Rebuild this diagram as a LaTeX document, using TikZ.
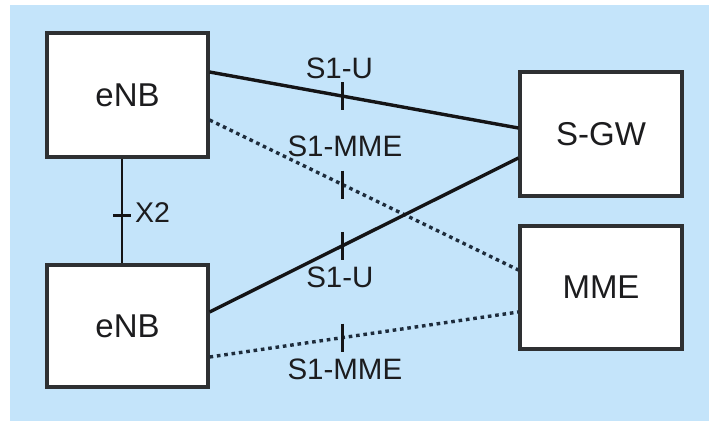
\documentclass[tikz,border=0pt]{standalone}
\usepackage{fontspec}
\setmainfont{Liberation Sans}
\definecolor{bgc}{RGB}{196,228,250}
\definecolor{boxline}{RGB}{46,48,50}
\definecolor{linec}{RGB}{20,20,22}
\definecolor{dotc}{RGB}{30,44,60}
\definecolor{txt}{RGB}{28,28,30}
\begin{document}
\begin{tikzpicture}[x=1pt,y=-1pt,
  box/.style={draw=boxline, line width=3.2pt, fill=white, minimum width=161pt, minimum height=124pt, inner sep=0pt, font=\fontsize{33}{38}\selectfont, text=txt},
  lbl/.style={font=\fontsize{29.5}{34}\selectfont, text=txt, inner sep=0pt},
  solidlink/.style={draw=linec, line width=3.4pt},
  dotlink/.style={draw=dotc, line width=3.4pt, dash pattern=on 3.6pt off 3.8pt},
  tickmark/.style={draw=linec, line width=3.2pt}]
\useasboundingbox (0,0) rectangle (709,421);
\fill[bgc] (10,5) rectangle (709,421);

\node[box] (enb1) at (127.5,95) {eNB};
\node[box, minimum height=122pt] (enb2) at (127.5,326) {eNB};
\node[box, minimum width=162pt] (sgw) at (601,134) {S-GW};
\node[box, minimum width=162pt, minimum height=123pt] (mme) at (601,287.5) {MME};

% X2
\draw[solidlink, line width=2.8pt] ([xshift=-5.5pt]enb1.south) -- ([xshift=-5.5pt]enb2.north) coordinate[pos=0.54] (tx2);
\draw[tickmark, line width=2.8pt] ([xshift=-9pt]tx2) -- ([xshift=9pt]tx2);
\node[lbl, font=\fontsize{28.5}{33}\selectfont, anchor=west] (lx2) at ([xshift=13pt,yshift=2.5pt]tx2) {X2};

% S1-U top
\draw[solidlink] ([yshift=23pt]enb1.east) -- ([yshift=6pt]sgw.west) coordinate[pos=0.43] (t1);
\draw[tickmark] ([yshift=14pt]t1) -- ([yshift=-14pt]t1);
\node[lbl] (l1) at ([xshift=-3pt,yshift=28pt]t1) {S1-U};

% S1-MME top
\draw[dotlink] ([yshift=-25pt]enb1.east) -- ([yshift=17.5pt]mme.west) coordinate[pos=0.43] (t2);
\draw[tickmark] ([yshift=14pt]t2) -- ([yshift=-14pt]t2);
\node[lbl] (l2) at ([xshift=2.5pt,yshift=38pt]t2) {S1-MME};

% S1-U bottom
\draw[solidlink] ([yshift=14pt]enb2.east) -- ([yshift=-24pt]sgw.west) coordinate[pos=0.43] (t3);
\draw[tickmark] ([yshift=14pt]t3) -- ([yshift=-14pt]t3);
\node[lbl] (l3) at ([xshift=-2.5pt,yshift=-31.5pt]t3) {S1-U};

% S1-MME bottom
\draw[dotlink] ([yshift=-31pt]enb2.east) -- ([yshift=-24.5pt]mme.west) coordinate[pos=0.43] (t4);
\draw[tickmark] ([yshift=14pt]t4) -- ([yshift=-14pt]t4);
\node[lbl] (l4) at ([xshift=2.5pt,yshift=-31.5pt]t4) {S1-MME};
\end{tikzpicture}
\end{document}
